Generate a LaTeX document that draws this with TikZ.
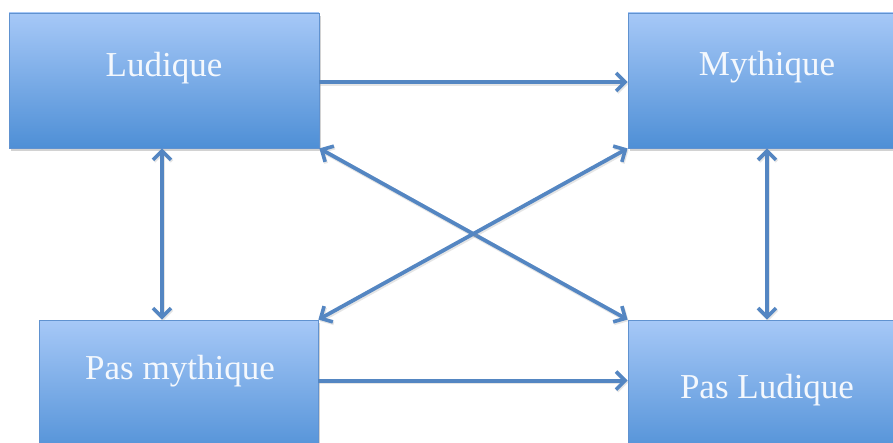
\documentclass[tikz,border=0pt]{standalone}
\usepackage{fontspec}
\setmainfont{Liberation Serif}
\usetikzlibrary{arrows.meta,shadows}
\definecolor{boxtop}{RGB}{166,200,247}
\definecolor{boxbot}{RGB}{78,143,214}
\definecolor{boxedge}{RGB}{96,146,208}
\definecolor{link}{RGB}{84,134,194}
\definecolor{labelc}{RGB}{244,248,253}
\tikzset{
  block/.style={draw=boxedge, line width=0.8pt, top color=boxtop, bottom color=boxbot,
    rectangle, inner sep=0pt,
    drop shadow={shadow xshift=2pt, shadow yshift=-3pt, opacity=0.35}},
  caption/.style={text=labelc, font=\fontsize{35}{38}\selectfont, inner sep=0pt, anchor=base},
  link/.style={draw=link, line width=3.8pt,
    preaction={draw=black!40, opacity=0.25, line width=4.2pt, transform canvas={xshift=1pt,yshift=-1.5pt}}},
  tip/.tip={Straight Barb[length=9pt,width=18pt,line width=3.6pt]},
}
\begin{document}
\begin{tikzpicture}[x=1pt,y=-1pt]
\useasboundingbox (0,0) rectangle (893,443);
\clip (0,0) rectangle (893,443);
\fill[white] (0,0) rectangle (893,443);

% boxes
\node[block, minimum width=310pt, minimum height=135pt] (lud) at (164,80.5) {};
\node[block, minimum width=272pt, minimum height=135pt] (my) at (764,80.5) {};
\node[block, minimum width=279pt, minimum height=140pt] (pm) at (178.5,390) {};
\node[block, minimum width=272pt, minimum height=140pt] (pl) at (764,390) {};

% labels
\node[caption] (ludT) at (164,77) {Ludique};
\node[caption] (myT) at (767,76) {Mythique};
\node[caption] (pmT) at (180,379) {Pas mythique};
\node[caption] (plT) at (767,398) {Pas Ludique};

% connectors
\draw[link, -{tip}] ([yshift=-1.5pt]lud.east) -- ([yshift=-1.5pt]lud.east -| my.west);
\draw[link, -{tip}] ([yshift=-61pt]pm.north east) -- ([yshift=-61pt]pm.north east -| pl.west);
\draw[link, {tip}-{tip}] ([xshift=-2pt]lud.south) -- ([xshift=-2pt]lud.south |- pm.north);
\draw[link, {tip}-{tip}] ([xshift=3pt]my.south) -- ([xshift=3pt]my.south |- pl.north);
\draw[link, {tip}-{tip}] (lud.south east) -- (pl.north west);
\draw[link, {tip}-{tip}] (my.south west) -- (pm.north east);
\end{tikzpicture}
\end{document}
